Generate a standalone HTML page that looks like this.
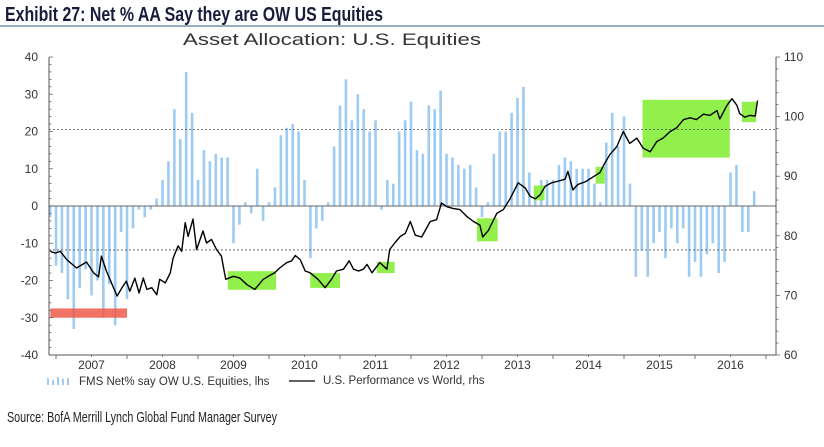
<!DOCTYPE html>
<html><head><meta charset="utf-8"><style>
body{margin:0;background:#fff;width:824px;height:447px;overflow:hidden;font-family:"Liberation Sans",sans-serif}
svg{display:block}
</style></head><body>
<svg width="824" height="447" viewBox="0 0 824 447">
<text x="5" y="21" textLength="378" lengthAdjust="spacingAndGlyphs" font-weight="bold" font-size="20" fill="#1a1c3c">Exhibit 27: Net % AA Say they are OW US Equities</text>
<line x1="0" y1="26" x2="824" y2="26" stroke="#5a7aa0" stroke-width="1.2"/>
<text x="183" y="45" textLength="298" lengthAdjust="spacingAndGlyphs" font-size="17" fill="#333">Asset Allocation: U.S. Equities</text>
<g id="plot"></g>
<g>
<g>
<g fill="#9ecbf2"><rect x="47" y="378" width="2" height="7"/><rect x="52" y="380" width="2" height="5"/><rect x="57" y="377" width="2" height="8"/><rect x="62" y="379" width="2" height="6"/><rect x="67" y="378" width="2" height="7"/></g>
<text x="79" y="385" font-size="11.5" fill="#333">FMS Net% say OW U.S. Equities, lhs</text></g>
<g>
<line x1="289" y1="381" x2="315" y2="381" stroke="#000" stroke-width="1.3"/>
<text x="323" y="384" font-size="11.5" fill="#333">U.S. Performance vs World, rhs</text></g>
</g>
<text x="7" y="422" textLength="270" lengthAdjust="spacingAndGlyphs" font-size="15" fill="#222">Source: BofA Merrill Lynch Global Fund Manager Survey</text>
</svg>
<script>
const barValues=[-3,-16,-18,-25,-33,-22,-17,-24,-20,-30,-21,-32,-7,-25,-6,-1,-3,-1,2,7,12,26,18,36,25,7,15,12,14,13,13,-10,-5,1,-2,10,-4,1,5,19,21,22,20,7,-14,-6,-4,1,16,27,34,23,30,26,20,23,-1,7,6,20,23,28,15,14,27,26,31,14,13,11,10,11,5,-3,1,14,20,20,25,29,32,9,4,7,7,7,11,13,12,10,10,10,6,1,17,25,16,24,6,-19,-12,-19,-10,-7,-14,-6,-10,-6,-19,-15,-19,-13,-10,-18,-15,9,11,-7,-7,4];
const barStart=2006.917;
const lineDates=[2006.92,2006.99,2007.06,2007.15,2007.29,2007.43,2007.53,2007.60,2007.64,2007.71,2007.81,2007.86,2007.93,2007.99,2008.04,2008.11,2008.17,2008.23,2008.28,2008.35,2008.42,2008.46,2008.54,2008.61,2008.65,2008.72,2008.77,2008.82,2008.86,2008.93,2008.98,2009.07,2009.12,2009.19,2009.26,2009.33,2009.39,2009.50,2009.59,2009.69,2009.80,2009.92,2009.99,2010.08,2010.15,2010.25,2010.32,2010.37,2010.44,2010.51,2010.58,2010.69,2010.79,2010.88,2010.95,2011.05,2011.13,2011.19,2011.26,2011.33,2011.38,2011.45,2011.56,2011.66,2011.70,2011.77,2011.85,2011.92,2011.99,2012.06,2012.15,2012.27,2012.36,2012.43,2012.50,2012.59,2012.69,2012.79,2012.88,2012.97,2013.01,2013.09,2013.21,2013.30,2013.39,2013.51,2013.61,2013.68,2013.75,2013.82,2013.89,2013.98,2014.08,2014.17,2014.21,2014.28,2014.35,2014.46,2014.58,2014.66,2014.73,2014.80,2014.90,2014.99,2015.08,2015.18,2015.27,2015.37,2015.46,2015.55,2015.65,2015.74,2015.84,2015.93,2016.02,2016.12,2016.21,2016.31,2016.35,2016.45,2016.52,2016.59,2016.63,2016.70,2016.77,2016.85,2016.88];
const lineValues=[77.4,77.1,77.4,76.0,74.6,75.6,73.8,73.1,76.6,74.1,71.3,69.9,71.3,72.4,70.7,72.9,70.4,72.9,71.0,71.3,70.1,72.7,72.1,73.8,76.3,78.3,77.4,82.2,79.9,82.8,77.7,80.8,78.8,79.4,77.7,76.6,72.7,73.2,72.9,71.8,71.0,72.7,73.2,73.8,74.6,75.5,75.8,76.7,76.0,74.1,73.8,72.7,71.3,72.7,74.1,74.4,75.8,74.4,74.1,74.4,75.2,73.8,75.5,74.4,77.7,78.8,79.9,80.4,82.4,80.1,79.8,82.4,82.7,85.5,84.9,84.6,84.4,83.2,82.4,81.8,79.8,80.9,83.8,84.4,86.1,88.9,88.0,86.6,86.2,86.9,88.3,88.9,89.2,89.5,90.8,87.7,88.6,89.1,90.0,90.6,92.2,93.6,95.0,97.5,95.5,96.4,94.7,94.1,95.8,96.4,97.5,98.1,99.5,99.8,99.5,100.4,100.2,101.0,99.6,101.9,103.0,101.9,100.5,99.9,100.2,100.1,102.7];
const yearLabels=["2007","2008","2009","2010","2011","2012","2013","2014","2015","2016"];
const leftTicks=[40,30,20,10,0,-10,-20,-30,-40];
const rightTicks=[110,100,90,80,70,60];
const greenBoxes=[[2009.42,2010.10,-22.5,-17.5],[2010.58,2011.0,-22,-18],[2011.52,2011.77,-18,-15],[2012.93,2013.22,-9.5,-3.3],[2013.73,2013.88,1.5,5.5],[2014.60,2014.73,6,10.5],[2015.26,2016.49,13,28.5],[2016.66,2016.86,22.5,28]];
const redBoxes=[[2006.92,2008.0,-30,-27.5]];

const NS="http://www.w3.org/2000/svg";
const X0=49,X1=776,YT=57,YB=355;
const xT=t=>56+(t-2007)*71;
const yL=v=>206-v*(YB-YT)/80;
const yR=v=>YB-(v-60)*(YB-YT)/50;
const g=document.getElementById('plot');
function mk(tag,attrs){const e=document.createElementNS(NS,tag);for(const k in attrs)e.setAttribute(k,attrs[k]);g.appendChild(e);return e;}
barValues.forEach((v,i)=>{const x=xT(barStart+i/12);const y0=yL(0),y1=yL(v);
const r=mk('rect',{x:x-1.3,y:Math.min(y0,y1),width:2.6,height:Math.abs(y1-y0),fill:'#9ecbf2'});

});
greenBoxes.forEach(b=>{const r=mk('rect',{x:xT(b[0]),y:yL(b[3]),width:xT(b[1])-xT(b[0]),height:yL(b[2])-yL(b[3]),fill:'#86ee3a',opacity:0.9});

});
redBoxes.forEach(b=>{const r=mk('rect',{x:xT(b[0]),y:yL(b[3]),width:xT(b[1])-xT(b[0]),height:yL(b[2])-yL(b[3]),fill:'#ee5a48',opacity:0.85});

});
[20.5,-11.8].forEach(v=>{const l=mk('line',{x1:X0,x2:X1,y1:yL(v),y2:yL(v),stroke:'#555','stroke-width':0.8,'stroke-dasharray':'2,2'});

});
const z=mk('line',{x1:X0,x2:X1,y1:yL(0),y2:yL(0),stroke:'#666','stroke-width':0.9});


const p=mk('path',{d:lineDates.map((t,i)=>(i?'L':'M')+xT(t).toFixed(1)+','+yR(lineValues[i]).toFixed(1)).join(''),fill:'none',stroke:'#000','stroke-width':1.4,'stroke-linejoin':'round'});


const la=mk('line',{x1:X0,x2:X0,y1:YT,y2:YB,stroke:'#555'});


const ra=mk('line',{x1:X1,x2:X1,y1:YT,y2:YB,stroke:'#555'});


const ba=mk('line',{x1:X0,x2:X1,y1:YB,y2:YB,stroke:'#555'});


for(let v=-40;v<=40;v+=2){mk('line',{x1:X0,x2:X0+(v%10===0?4:2.5),y1:yL(v),y2:yL(v),stroke:'#555','stroke-width':0.7});}
for(let v=60;v<=110;v+=2){mk('line',{x1:X1,x2:X1+(v%10===0?4:2.5),y1:yR(v),y2:yR(v),stroke:'#555','stroke-width':0.7});}
leftTicks.forEach(v=>{const t=mk('text',{x:38,y:yL(v)+4,'text-anchor':'end','font-size':12,fill:'#333'});t.textContent=v;

});
rightTicks.forEach(v=>{const t=mk('text',{x:784,y:yR(v)+4,'font-size':12,fill:'#333'});t.textContent=v;

});
for(let yr=2007;yr<=2017;yr++){mk('line',{x1:xT(yr),x2:xT(yr),y1:YB,y2:YB+4,stroke:'#555','stroke-width':0.8});if(yr<2017)mk('line',{x1:xT(yr+0.5),x2:xT(yr+0.5),y1:YB,y2:YB+2,stroke:'#555','stroke-width':0.7});}
yearLabels.forEach((s,i)=>{const t=mk('text',{x:xT(2007.5+i),y:369,'text-anchor':'middle','font-size':12,fill:'#333'});t.textContent=s;

});
</script>
</body></html>
